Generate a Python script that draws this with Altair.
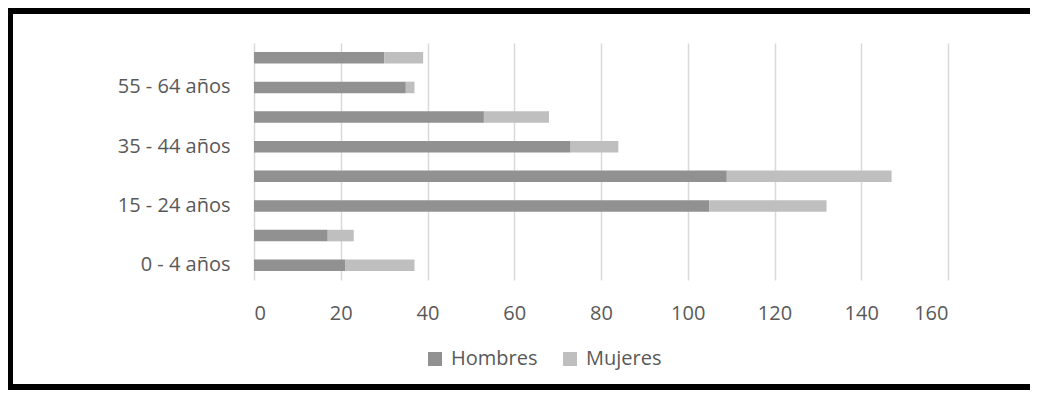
import altair as alt
import pandas as pd

categories = ["65 y más años", "55 - 64 años", "45 - 54 años", "35 - 44 años",
              "25 - 34 años", "15 - 24 años", "5 - 14 años", "0 - 4 años"]
shown_labels = ["55 - 64 años", "35 - 44 años", "15 - 24 años", "0 - 4 años"]
hombres = [30, 35, 53, 73, 109, 105, 17, 21]
mujeres = [9, 2, 15, 11, 38, 27, 6, 16]
series = ["Hombres", "Mujeres"]
colors = ["#919191", "#bfbfbf"]
x_ticks = [0, 20, 40, 60, 80, 100, 120, 140, 160]

rows = []
for c, h, m in zip(categories, hombres, mujeres):
    rows.append({"grupo": c, "sexo": "Hombres", "valor": h})
    rows.append({"grupo": c, "sexo": "Mujeres", "valor": m})
df = pd.DataFrame(rows)

FONT = "Open Sans"
TXT = "#595959"

bars = alt.Chart(df).mark_bar().encode(
    x=alt.X("valor:Q", stack="zero",
            scale=alt.Scale(domain=[0, 160], nice=False),
            axis=alt.Axis(values=x_ticks, title=None, grid=True, gridColor="#d9d9d9",
                          gridWidth=1.5, domain=False, ticks=False, labelPadding=23,
                          labelFontSize=20, labelColor=TXT, labelFont=FONT)),
    y=alt.Y("grupo:N", sort=categories,
            scale=alt.Scale(paddingInner=0.61, paddingOuter=0.305),
            axis=alt.Axis(values=shown_labels, title=None, domain=False, ticks=False,
                          labelPadding=24, labelFontSize=20, labelColor=TXT,
                          labelFont=FONT)),
    color=alt.Color("sexo:N", scale=alt.Scale(domain=series, range=colors),
                    legend=alt.Legend(title=None, orient="none", legendX=171, legendY=306,
                                      direction="horizontal", symbolType="square",
                                      symbolSize=196, symbolStrokeWidth=0,
                                      labelFontSize=20, labelColor=TXT, labelFont=FONT,
                                      labelOffset=6, columnPadding=22)),
    order=alt.Order("sexo:N", sort="ascending"),
)

frame_top = alt.Chart(df).mark_rule(color="black", strokeWidth=6).encode(
    x=alt.value(-246), x2=alt.value(776), y=alt.value(-32))
frame_left = alt.Chart(df).mark_rule(color="black", strokeWidth=5).encode(
    x=alt.value(-243.5), y=alt.value(-35), y2=alt.value(347))
frame_bottom = alt.Chart(df).mark_rule(color="black", strokeWidth=6).encode(
    x=alt.value(-246), x2=alt.value(776), y=alt.value(344))

chart = alt.layer(bars, frame_top, frame_left, frame_bottom).properties(
    width=694, height=237,
    autosize=alt.AutoSizeParams(type="none"),
    padding={"left": 246, "top": 35, "right": 82, "bottom": 110},
).configure(font=FONT, background="white").configure_view(strokeWidth=0)

chart.save("out.html", embed_options={"renderer": "svg", "actions": False})
